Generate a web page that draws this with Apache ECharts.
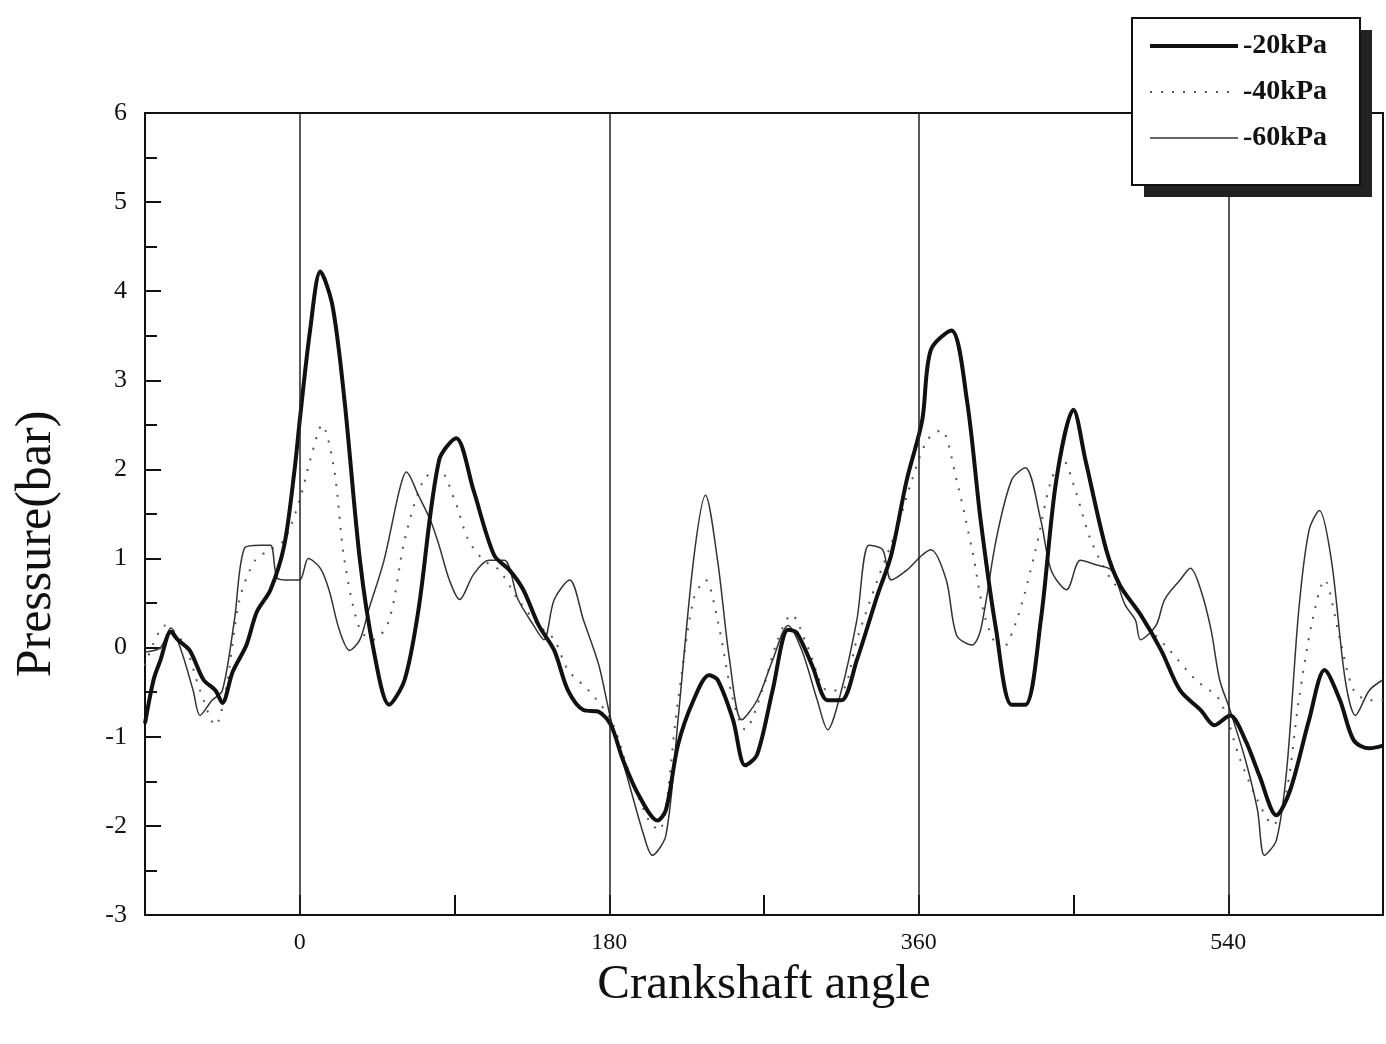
<!DOCTYPE html>
<html>
<head>
<meta charset="utf-8">
<script src="https://cdn.jsdelivr.net/npm/echarts@6/dist/echarts.min.js"></script>
<style>html,body{margin:0;padding:0;background:#fff;}#c{width:1386px;height:1044px;}</style>
</head>
<body>
<div id="c"></div>
<script>
// ---- data ----
const seriesNames = ['-20kPa', '-40kPa', '-60kPa'];
const xLabeled = [0, 180, 360, 540];
const xRefLines = [0, 180, 360, 540];

const angle20 = [-90,-85,-81,-75,-71,-64,-56,-49,-45,-39,-31,-25,-17,-9,-3,0,6,12,19,26,35,43,52,61,69,81,91,101,113,122,130,139,148,156,165,174,181,188,197,208,213,220,229,238,243,252,259,266,275,284,289,298,307,315,324,336,344,353,362,367,379,388,396,405,414,422,431,440,450,457,469,477,489,501,512,524,532,541,550,558,568,576,587,596,605,613,622,630];
const p20 = [-0.85,-0.36,-0.14,0.18,0.09,-0.03,-0.36,-0.48,-0.62,-0.27,0.03,0.4,0.65,1.15,2.0,2.55,3.56,4.22,3.84,2.78,0.98,-0.03,-0.64,-0.36,0.42,2.1,2.35,1.77,1.04,0.87,0.65,0.25,-0.03,-0.48,-0.7,-0.72,-0.87,-1.26,-1.65,-1.94,-1.82,-1.09,-0.59,-0.31,-0.36,-0.81,-1.32,-1.2,-0.48,0.2,0.17,-0.2,-0.59,-0.59,-0.14,0.59,1.04,1.88,2.55,3.34,3.56,2.78,1.43,0.2,-0.64,-0.64,0.31,1.88,2.67,2.1,1.1,0.7,0.37,-0.03,-0.48,-0.7,-0.87,-0.76,-1.04,-1.43,-1.88,-1.6,-0.81,-0.25,-0.59,-1.04,-1.13,-1.1];

const angle40 = [-90,-78,-67,-58,-49,-43,-35,-26,-17,-9,0,6,13,20,26,35,43,52,61,72,81,90,98,107,116,127,139,148,156,168,181,191,203,209,220,229,236,243,252,259,269,278,286,295,307,315,324,336,347,356,365,373,382,391,399,408,417,428,437,444,451,460,472,483,495,506,521,535,547,557,566,574,581,589,596,605,613,622,630];
const p40 = [-0.2,0.25,0.03,-0.48,-0.87,-0.48,0.54,0.98,1.1,1.21,1.66,2.1,2.5,2.0,0.98,0.2,0.09,0.31,1.21,1.88,2.0,1.66,1.21,0.98,0.87,0.54,0.25,0.09,-0.25,-0.48,-0.81,-1.37,-1.94,-2.05,-0.59,0.54,0.76,0.31,-0.59,-0.92,-0.48,0.09,0.37,0.03,-0.48,-0.48,0.09,0.76,1.32,1.88,2.33,2.44,1.88,1.1,0.31,-0.03,0.31,1.1,1.88,2.1,1.77,1.21,0.76,0.54,0.2,-0.03,-0.36,-0.59,-1.26,-1.71,-1.99,-1.6,-0.59,0.31,0.76,0.09,-0.48,-0.59,-0.59];

const angle60 = [-90,-81,-75,-69,-62,-58,-51,-45,-38,-32,-23,-17,-13,-6,0,5,12,17,23,29,35,40,49,58,62,69,76,81,87,93,101,110,119,127,136,142,148,157,165,174,181,191,200,205,213,220,229,236,243,250,257,266,275,284,292,301,307,315,324,331,339,344,353,362,367,376,382,391,396,405,414,422,431,437,446,454,463,472,480,486,489,498,503,512,518,524,530,535,541,550,557,561,568,574,581,587,593,600,608,614,622,630];
const p60 = [-0.05,0.0,0.22,-0.03,-0.48,-0.76,-0.59,-0.48,0.31,1.12,1.15,1.15,0.78,0.76,0.76,1.0,0.89,0.65,0.2,-0.03,0.09,0.42,0.98,1.77,1.97,1.71,1.43,1.15,0.76,0.54,0.82,0.98,0.98,0.54,0.25,0.09,0.54,0.76,0.31,-0.2,-0.81,-1.49,-2.1,-2.33,-2.1,-0.81,0.98,1.71,0.98,-0.14,-0.81,-0.59,-0.14,0.25,-0.03,-0.59,-0.92,-0.48,0.31,1.15,1.1,0.76,0.87,1.04,1.1,0.76,0.14,0.03,0.2,1.21,1.88,2.02,1.43,0.87,0.65,0.98,0.93,0.87,0.48,0.31,0.09,0.25,0.54,0.76,0.89,0.65,0.2,-0.36,-0.7,-1.26,-1.82,-2.33,-2.16,-1.37,0.42,1.32,1.54,0.98,-0.36,-0.76,-0.48,-0.36];

function pairs(a, b) { return a.map((x, i) => [x, b[i]]); }

const serif = '"Liberation Serif", "DejaVu Serif", serif';
const chart = echarts.init(document.getElementById('c'), null, {renderer: 'canvas'});

chart.setOption({
  backgroundColor: '#fff',
  animation: false,
  grid: {left: 145, right: 1, top: 113, bottom: 129, show: true, borderColor: '#111', borderWidth: 2, backgroundColor: 'transparent'},
  graphic: [
    {type: 'rect', z: 50, silent: true, shape: {x: 1144, y: 30, width: 228, height: 167}, style: {fill: '#222'}},
    {type: 'rect', z: 51, silent: true, shape: {x: 1132, y: 18, width: 228, height: 167}, style: {fill: '#fff', stroke: '#111', lineWidth: 2}}
  ],
  legend: {
    left: 1148, top: 32, z: 60,
    orient: 'vertical',
    itemWidth: 88, itemHeight: 20, itemGap: 18,
    padding: 0,
    itemStyle: {opacity: 0},
    textStyle: {fontFamily: serif, fontSize: 28, fontWeight: 'bold', color: '#111'},
    data: [
      {name: seriesNames[0], lineStyle: {width: 4}},
      {name: seriesNames[1], lineStyle: {width: 2}},
      {name: seriesNames[2], lineStyle: {width: 1.5}}
    ]
  },
  xAxis: {
    type: 'value', min: -90, max: 630, interval: 90,
    name: 'Crankshaft angle', nameLocation: 'middle', nameGap: 46,
    nameTextStyle: {fontFamily: serif, fontSize: 49, color: '#111'},
    axisLine: {show: true, onZero: false, lineStyle: {color: '#111', width: 2}},
    axisTick: {show: true, inside: true, length: 20, lineStyle: {color: '#111', width: 2}},
    axisLabel: {
      fontFamily: serif, fontSize: 24, color: '#111', margin: 16,
      formatter: v => xLabeled.indexOf(v) >= 0 ? String(v) : ''
    },
    splitLine: {show: false}
  },
  yAxis: {
    type: 'value', min: -3, max: 6, interval: 1,
    name: 'Pressure(bar)', nameLocation: 'middle', nameGap: 83, nameRotate: 90,
    nameTextStyle: {fontFamily: serif, fontSize: 50, color: '#111', padding: [0, 60, 0, 0]},
    axisLine: {show: true, onZero: false, lineStyle: {color: '#111', width: 2}},
    axisTick: {show: true, inside: true, length: 16, lineStyle: {color: '#111', width: 2}},
    minorTick: {show: true, splitNumber: 2, length: 12, lineStyle: {color: '#111', width: 2}},
    axisLabel: {fontFamily: serif, fontSize: 26, color: '#111', margin: 18},
    splitLine: {show: false}
  },
  series: [
    {
      name: seriesNames[0], type: 'line', data: pairs(angle20, p20),
      symbol: 'none', smooth: 0.3,
      lineStyle: {color: '#111', width: 4},
      itemStyle: {color: '#111'},
      markLine: {
        silent: true, symbol: 'none', label: {show: false},
        lineStyle: {color: '#222', width: 1.5, type: 'solid'},
        data: xRefLines.map(v => ({xAxis: v}))
      },
      z: 3
    },
    {
      name: seriesNames[1], type: 'line', data: pairs(angle40, p40),
      symbol: 'none', smooth: 0.3,
      lineStyle: {color: '#555', width: 2, type: [2, 9]},
      itemStyle: {color: '#555'},
      z: 2
    },
    {
      name: seriesNames[2], type: 'line', data: pairs(angle60, p60),
      symbol: 'none', smooth: 0.3,
      lineStyle: {color: '#333', width: 1.5},
      itemStyle: {color: '#333'},
      z: 2
    }
  ]
});
</script>
</body>
</html>
